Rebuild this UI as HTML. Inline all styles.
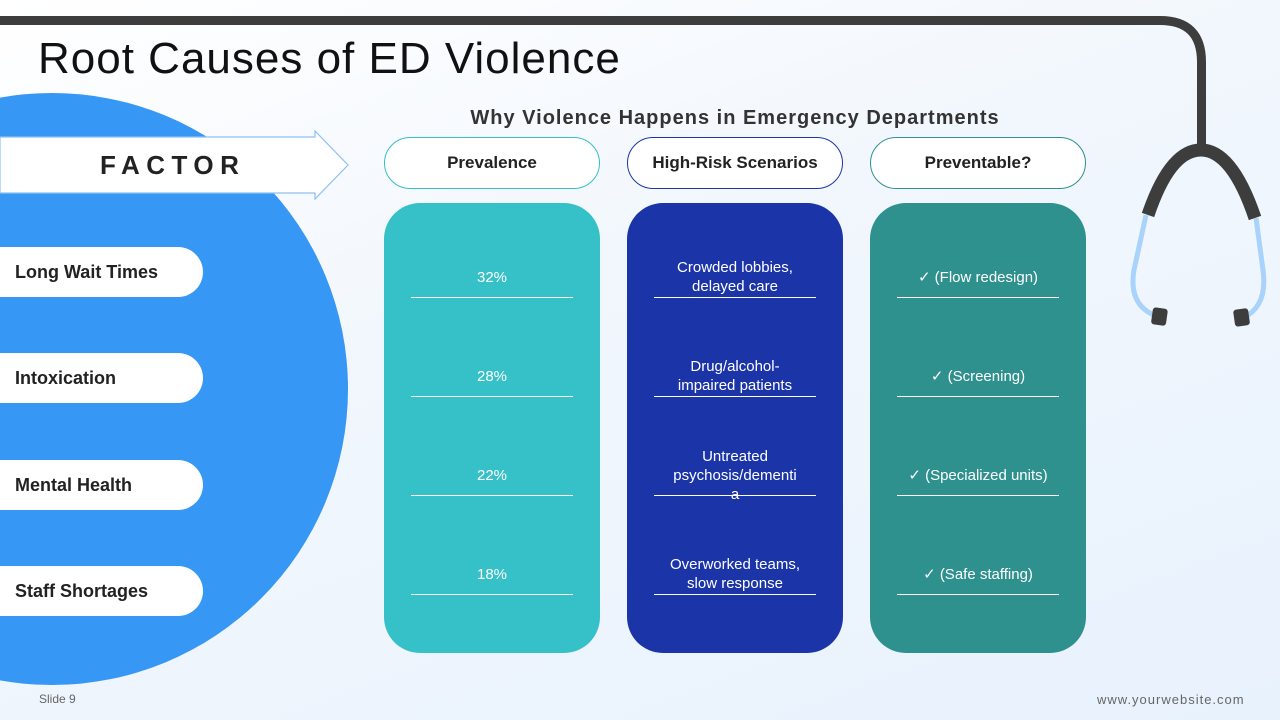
<!DOCTYPE html>
<html><head><meta charset="utf-8"><style>
*{margin:0;padding:0;box-sizing:border-box}
body{width:1280px;height:720px;overflow:hidden;position:relative;font-family:"Liberation Sans",sans-serif;background:linear-gradient(160deg,#ffffff 0%,#f2f7fd 40%,#e8f2fd 100%)}
.abs{position:absolute}
.title{left:38px;top:34px;font-size:44px;color:#111;font-family:"Liberation Sans",sans-serif;letter-spacing:1px;white-space:nowrap}
.sub{left:384px;width:702px;top:107px;text-align:center;font-size:20px;font-weight:bold;color:#333;letter-spacing:1px}
.hp{top:137px;height:52px;width:216px;border-radius:26px;background:#fff;display:flex;align-items:center;justify-content:center;font-weight:bold;font-size:17px;color:#222}
.card{top:203px;height:450px;width:216px;border-radius:36px}
.cell{width:216px;text-align:center;color:#fff;font-size:15px;line-height:19px}
.ln{height:1px;width:162px;background:#fff}
.lp{left:0;width:203px;height:50px;background:#fff;border-radius:0 25px 25px 0;font-weight:bold;font-size:18px;color:#222;display:flex;align-items:center;padding-left:15px}
</style></head><body>
<svg class="abs" style="left:0;top:0" width="1280" height="720">
<circle cx="52" cy="389" r="296" fill="#3797f5"/>
<path d="M0 20.5 H1160 Q1201.5 20.5 1201.5 62 V150" fill="none" stroke="#3d3d3d" stroke-width="9"/>
<path d="M1146 215 L1134 270 Q1128 305 1156 316" fill="none" stroke="#a9d3fa" stroke-width="5"/>
<path d="M1256 218 L1263 270 Q1268 306 1243 318" fill="none" stroke="#a9d3fa" stroke-width="5"/>
<path d="M1148 215 Q1170 150 1201 150 Q1232 150 1255 218" fill="none" stroke="#3d3d3d" stroke-width="13"/>
<rect x="1152" y="308" width="15" height="17" rx="3" fill="#3d3d3d" transform="rotate(8 1159 316)"/>
<rect x="1234" y="309" width="15" height="17" rx="3" fill="#3d3d3d" transform="rotate(-8 1241 317)"/>
<path d="M0 137 H315 V131 L348 165 L315 199 V193 H0 Z" fill="#fff" stroke="#8ebff5" stroke-width="1.2"/>
</svg>
<div class="abs" style="left:100px;top:150px;font-size:26px;font-weight:bold;letter-spacing:6.5px;color:#222">FACTOR</div>
<div class="abs title">Root Causes of ED Violence</div>
<div class="abs sub">Why Violence Happens in Emergency Departments</div>
<div class="abs hp" style="left:384px;border:1px solid #36c0c8">Prevalence</div>
<div class="abs hp" style="left:627px;border:1px solid #1b35a8">High-Risk Scenarios</div>
<div class="abs hp" style="left:870px;border:1px solid #2e918e">Preventable?</div>
<div class="abs card" style="left:384px;background:#36c0c8"></div>
<div class="abs card" style="left:627px;background:#1b35a8"></div>
<div class="abs card" style="left:870px;background:#2e918e"></div>

<div class="abs lp" style="top:247px">Long Wait Times</div>
<div class="abs lp" style="top:353px">Intoxication</div>
<div class="abs lp" style="top:460px">Mental Health</div>
<div class="abs lp" style="top:566px">Staff Shortages</div>

<div class="abs cell" style="left:384px;top:268px">32%</div>
<div class="abs cell" style="left:384px;top:367px">28%</div>
<div class="abs cell" style="left:384px;top:466px">22%</div>
<div class="abs cell" style="left:384px;top:565px">18%</div>
<div class="abs cell" style="left:627px;top:258px">Crowded lobbies,<br>delayed care</div>
<div class="abs cell" style="left:627px;top:357px">Drug/alcohol-<br>impaired patients</div>
<div class="abs cell" style="left:627px;top:447px;padding:0 40px">Untreated psychosis/dementi<br>a</div>
<div class="abs cell" style="left:627px;top:555px">Overworked teams,<br>slow response</div>
<div class="abs cell" style="left:870px;top:268px">✓ (Flow redesign)</div>
<div class="abs cell" style="left:870px;top:367px">✓ (Screening)</div>
<div class="abs cell" style="left:870px;top:466px">✓ (Specialized units)</div>
<div class="abs cell" style="left:870px;top:565px">✓ (Safe staffing)</div>

<div class="abs ln" style="left:411px;top:297px"></div><div class="abs ln" style="left:411px;top:396px"></div><div class="abs ln" style="left:411px;top:495px"></div><div class="abs ln" style="left:411px;top:594px"></div>
<div class="abs ln" style="left:654px;top:297px"></div><div class="abs ln" style="left:654px;top:396px"></div><div class="abs ln" style="left:654px;top:495px"></div><div class="abs ln" style="left:654px;top:594px"></div>
<div class="abs ln" style="left:897px;top:297px"></div><div class="abs ln" style="left:897px;top:396px"></div><div class="abs ln" style="left:897px;top:495px"></div><div class="abs ln" style="left:897px;top:594px"></div>

<div class="abs" style="left:39px;top:692px;font-size:12px;color:#666">Slide 9</div>
<div class="abs" style="left:1097px;top:692px;font-size:13px;color:#666;letter-spacing:1px">www.yourwebsite.com</div>
</body></html>
